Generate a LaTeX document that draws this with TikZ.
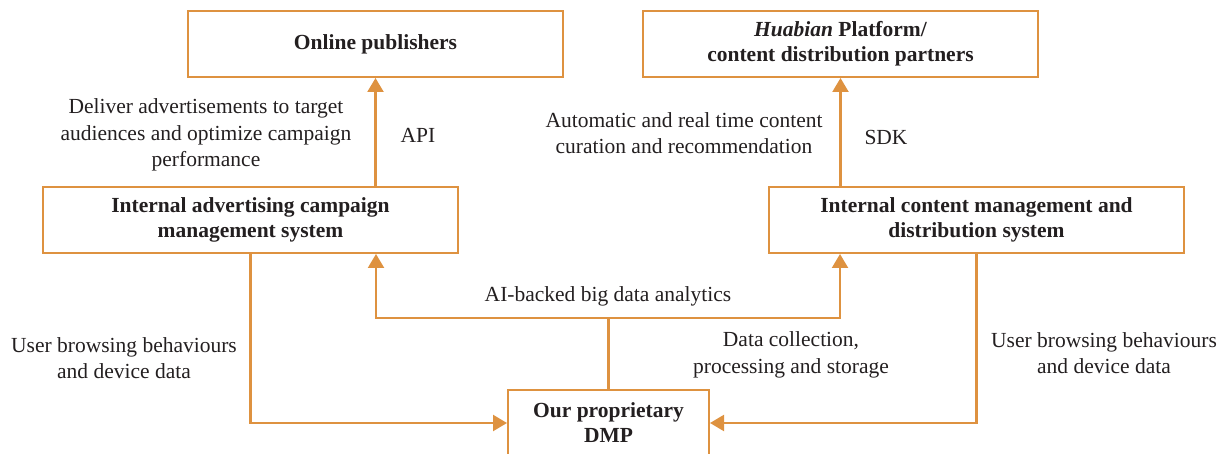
\documentclass[tikz,border=0pt]{standalone}
\usepackage{fontspec}
\setmainfont{Liberation Serif}
\usetikzlibrary{arrows.meta}
\definecolor{flow}{RGB}{222,146,64}
\definecolor{ink}{RGB}{35,31,32}
\begin{document}
\begin{tikzpicture}[x=1pt,y=-1pt,
  every node/.style={text=ink, font=\fontsize{21.5}{26.5}\selectfont},
  box/.style={draw=flow, line width=2pt, fill=white, align=center,
              minimum height=66pt, inner sep=0pt,
              font=\fontsize{21.5}{25}\selectfont\bfseries},
  lbl/.style={align=center, inner sep=0pt},
  link/.style={draw=flow, line width=2.2pt},
  arrow/.style={link, -{Triangle[width=16pt,length=14pt]}}]
\useasboundingbox (0,0) rectangle (1226,454);
\clip (0,0) rectangle (1226,454);

% boxes
\node[box, minimum width=375pt] (online) at (375.5,44) {Online publishers};
\node[box, minimum width=395pt] (huab) at (840.5,44) {\textit{Huabian} Platform/\\content distribution partners};
\node[box, minimum width=415pt] (adv) at (250.5,220) {Internal advertising campaign\\management system};
\node[box, minimum width=415pt] (cms) at (976.5,220) {Internal content management and\\distribution system};
\node[box, minimum width=201pt] (dmp) at (608.5,423) {Our proprietary\\DMP};

% branch points
\coordinate (busL) at (376,318);
\coordinate (busR) at (840,318);

% connectors
\draw[arrow] (adv.north -| online.south) -- (online.south);
\draw[arrow] (cms.north -| huab.south) -- (huab.south);
\draw[arrow] (dmp.north) |- (busL) -- (busL |- adv.south);
\draw[arrow] (dmp.north) |- (busR) -- (busR |- cms.south);
\draw[arrow] (adv.south) |- (dmp.west);
\draw[arrow] (cms.south) |- (dmp.east);

% labels
\node[lbl] (deliver) at (206,135) {Deliver advertisements to target\\audiences and optimize campaign\\performance};
\node[lbl] (api) at (418,135) {API};
\node[lbl] (auto) at (684,133) {Automatic and real time content\\curation and recommendation};
\node[lbl] (sdk) at (886,137) {SDK};
\node[lbl] (ai) at (608,296) {AI-backed big data analytics};
\node[lbl] (collect) at (791,355) {Data collection,\\processing and storage};
\node[lbl] (userL) at (124,358) {User browsing behaviours\\and device data};
\node[lbl] (userR) at (1104,353) {User browsing behaviours\\and device data};
\end{tikzpicture}
\end{document}
